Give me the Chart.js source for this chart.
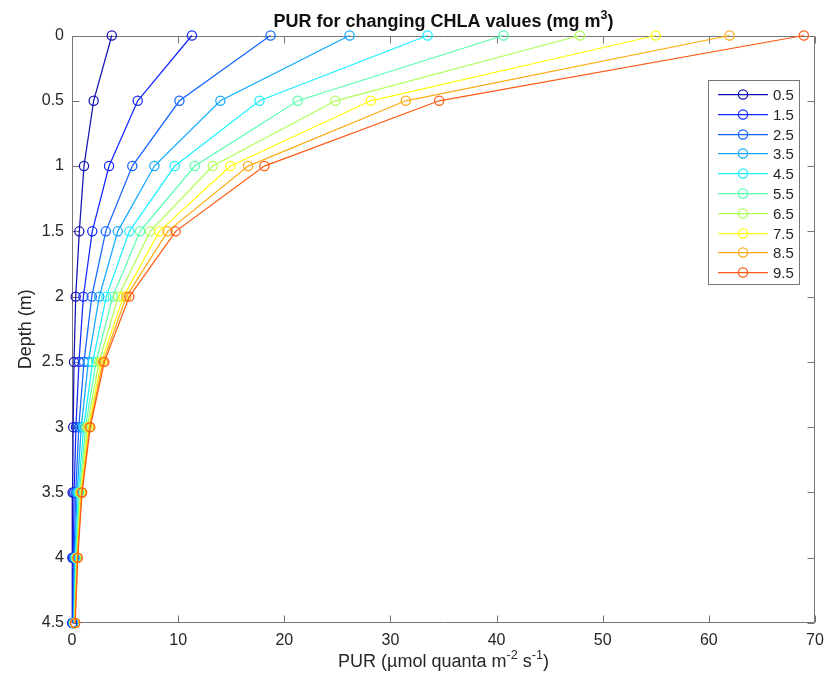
<!DOCTYPE html>
<html>
<head>
<meta charset="utf-8">
<script src="https://cdn.jsdelivr.net/npm/chart.js@4.4.1/dist/chart.umd.min.js"></script>
<style>
    html, body { margin: 0; padding: 0; background: #fff; }
    #wrap { width: 840px; height: 681px; }
</style>
</head>
<body>
<div id="wrap"><canvas id="pur-chart" width="840" height="681"></canvas></div>
<script>
// Depth profiles of PUR, one series per chlorophyll-a concentration
const CHLA_LEVELS = ['0.5', '1.5', '2.5', '3.5', '4.5', '5.5', '6.5', '7.5', '8.5', '9.5'];
const DEPTHS      = [0, 0.5, 1, 1.5, 2, 2.5, 3, 3.5, 4, 4.5];

const PUR_CHLA_0_5 = [3.75, 2.04, 1.13, 0.69, 0.35, 0.19, 0.11, 0.06, 0.035, 0.02];
const PUR_CHLA_1_5 = [11.3, 6.19, 3.49, 1.91, 1.07, 0.66, 0.37, 0.20, 0.11, 0.06];
const PUR_CHLA_2_5 = [18.7, 10.12, 5.68, 3.18, 1.86, 1.13, 0.64, 0.35, 0.20, 0.11];
const PUR_CHLA_3_5 = [26.15, 13.98, 7.76, 4.31, 2.57, 1.54, 0.87, 0.48, 0.27, 0.15];
const PUR_CHLA_4_5 = [33.5, 17.66, 9.68, 5.40, 3.23, 1.95, 1.10, 0.60, 0.34, 0.19];
const PUR_CHLA_5_5 = [40.65, 21.27, 11.56, 6.41, 3.84, 2.26, 1.27, 0.70, 0.39, 0.22];
const PUR_CHLA_6_5 = [47.85, 24.82, 13.26, 7.35, 4.36, 2.54, 1.43, 0.78, 0.44, 0.24];
const PUR_CHLA_7_5 = [55.0, 28.15, 14.92, 8.23, 4.84, 2.76, 1.56, 0.85, 0.48, 0.26];
const PUR_CHLA_8_5 = [61.95, 31.45, 16.59, 9.02, 5.12, 2.92, 1.65, 0.90, 0.51, 0.28];
const PUR_CHLA_9_5 = [68.95, 34.59, 18.12, 9.77, 5.40, 3.05, 1.72, 0.95, 0.54, 0.30];

const PUR_SERIES = [PUR_CHLA_0_5, PUR_CHLA_1_5, PUR_CHLA_2_5, PUR_CHLA_3_5, PUR_CHLA_4_5,
                    PUR_CHLA_5_5, PUR_CHLA_6_5, PUR_CHLA_7_5, PUR_CHLA_8_5, PUR_CHLA_9_5];

const X_TICKS     = [0, 10, 20, 30, 40, 50, 60, 70];
const DEPTH_TICKS = [0, 0.5, 1, 1.5, 2, 2.5, 3, 3.5, 4, 4.5];

// jet-style colours, dark blue -> red
const COLORS = ['#1414b4', '#1428ff', '#1464ff', '#14a8ff', '#1ef0ff',
                '#5affb0', '#b0ff5a', '#ffff10', '#ffaa14', '#ff5a14'];

const FONT      = '"Liberation Sans", Arial, Helvetica, sans-serif';
const TEXT_COL  = '#262626';
const AXIS_COL  = '#767676';
const TICK_LEN  = 7;
const LINE_W    = 1.25;

// draws a line of text with raised pieces, centred on cx
function drawRich(ctx, parts, cx, baseline, size, weight, color) {
    let total = 0;
    const items = parts.map(p => {
        const fs = p.sup ? size * 0.7 : size;
        ctx.font = `${weight} ${fs}px ${FONT}`;
        const w = ctx.measureText(p.text).width;
        total += w;
        return { text: p.text, sup: p.sup, fs, w };
    });
    let x = cx - total / 2;
    ctx.fillStyle = color;
    ctx.textAlign = 'left';
    ctx.textBaseline = 'alphabetic';
    items.forEach(it => {
        ctx.font = `${weight} ${it.fs}px ${FONT}`;
        ctx.fillText(it.text, x, it.sup ? baseline - size * 0.42 : baseline);
        x += it.w;
    });
}

const axesBox = {
    id: 'axesBox',
    beforeDatasetsDraw(chart) {
        const { ctx, chartArea: a, scales: { x, y } } = chart;
        const L = Math.round(a.left) + 0.5, R = Math.round(a.right) - 0.5;
        const T = Math.round(a.top) + 0.5,  B = Math.round(a.bottom) - 0.5;
        ctx.save();
        ctx.strokeStyle = AXIS_COL;
        ctx.lineWidth = 1;
        ctx.beginPath();
        ctx.rect(L, T, R - L, B - T);
        X_TICKS.forEach(v => {
            const px = Math.round(x.getPixelForValue(v)) + 0.5;
            ctx.moveTo(px, B); ctx.lineTo(px, B - TICK_LEN);
            ctx.moveTo(px, T); ctx.lineTo(px, T + TICK_LEN);
        });
        DEPTH_TICKS.forEach(v => {
            const py = Math.round(y.getPixelForValue(v)) + 0.5;
            ctx.moveTo(L, py); ctx.lineTo(L + TICK_LEN, py);
            ctx.moveTo(R, py); ctx.lineTo(R - TICK_LEN, py);
        });
        ctx.stroke();
        ctx.restore();
    },
    afterDraw(chart) {
        const { ctx, chartArea: a } = chart;
        const cx = (a.left + a.right) / 2;
        ctx.save();
        drawRich(ctx, [
            { text: 'PUR for changing CHLA values (mg m' },
            { text: '3', sup: true },
            { text: ')' },
        ], cx, 27, 18, 'bold', '#111');
        drawRich(ctx, [
            { text: 'PUR (µmol quanta m' },
            { text: '-2', sup: true },
            { text: ' s' },
            { text: '-1', sup: true },
            { text: ')' },
        ], cx, 667, 18, 'normal', TEXT_COL);
        ctx.restore();
    },
};

// MATLAB-like legend box in the upper right of the axes
const legendBox = {
    id: 'legendBox',
    afterDatasetsDraw(chart) {
        const { ctx } = chart;
        const bx = 708.5, by = 80.5, bw = 91, bh = 204;
        const rowH = 19.8;
        ctx.save();
        ctx.fillStyle = '#fff';
        ctx.fillRect(bx, by, bw, bh);
        ctx.strokeStyle = AXIS_COL;
        ctx.lineWidth = 1;
        ctx.strokeRect(bx, by, bw, bh);
        ctx.font = `15px ${FONT}`;
        ctx.textAlign = 'left';
        ctx.textBaseline = 'middle';
        CHLA_LEVELS.forEach((lbl, i) => {
            const yy = Math.round(94 + i * rowH) + 0.5;
            ctx.strokeStyle = COLORS[i];
            ctx.lineWidth = LINE_W;
            ctx.beginPath();
            ctx.moveTo(718, yy); ctx.lineTo(768, yy);
            ctx.stroke();
            ctx.beginPath();
            ctx.arc(743, yy, 4.6, 0, Math.PI * 2);
            ctx.stroke();
            ctx.fillStyle = TEXT_COL;
            ctx.fillText(lbl, 773, yy + 1);
        });
        ctx.restore();
    },
};

const datasets = PUR_SERIES.map((vals, i) => ({
    label: CHLA_LEVELS[i],
    data: DEPTHS.map((d, j) => ({ x: vals[j], y: d })),
    showLine: true,
    borderColor: COLORS[i],
    borderWidth: LINE_W,
    pointRadius: 4.6,
    pointHoverRadius: 4.6,
    pointBorderWidth: LINE_W,
    pointBorderColor: COLORS[i],
    pointBackgroundColor: 'transparent',
    tension: 0,
    clip: false,
    order: PUR_SERIES.length - 1 - i,
}));

new Chart(document.getElementById('pur-chart').getContext('2d'), {
    type: 'scatter',
    data: { datasets },
    options: {
        responsive: false,
        animation: false,
        devicePixelRatio: 1,
        layout: { padding: { top: 35.5, right: 25, left: 0, bottom: 0 } },
        plugins: {
            legend:  { display: false },
            title:   { display: false },
            tooltip: { enabled: false },
        },
        scales: {
            x: {
                type: 'linear',
                min: 0,
                max: 70,
                afterBuildTicks: s => { s.ticks = X_TICKS.map(v => ({ value: v })); },
                afterFit: s => { s.height = 58; },
                grid:   { display: false, drawTicks: false },
                border: { display: false },
                ticks: {
                    color: TEXT_COL,
                    padding: 8,
                    maxRotation: 0,
                    font: { family: FONT, size: 16 },
                    callback: v => String(v),
                },
            },
            y: {
                type: 'linear',
                reverse: true,
                min: 0,
                max: 4.5,
                afterBuildTicks: s => { s.ticks = DEPTH_TICKS.map(v => ({ value: v })); },
                afterFit: s => { s.width = 72; },
                grid:   { display: false, drawTicks: false },
                border: { display: false },
                title: {
                    display: true,
                    text: 'Depth (m)',
                    color: TEXT_COL,
                    padding: { top: 15.5, bottom: 0 },
                    font: { family: FONT, size: 18 },
                },
                ticks: {
                    color: TEXT_COL,
                    padding: 8,
                    font: { family: FONT, size: 16 },
                    callback: v => String(v),
                },
            },
        },
    },
    plugins: [axesBox, legendBox],
});
</script>
</body>
</html>
